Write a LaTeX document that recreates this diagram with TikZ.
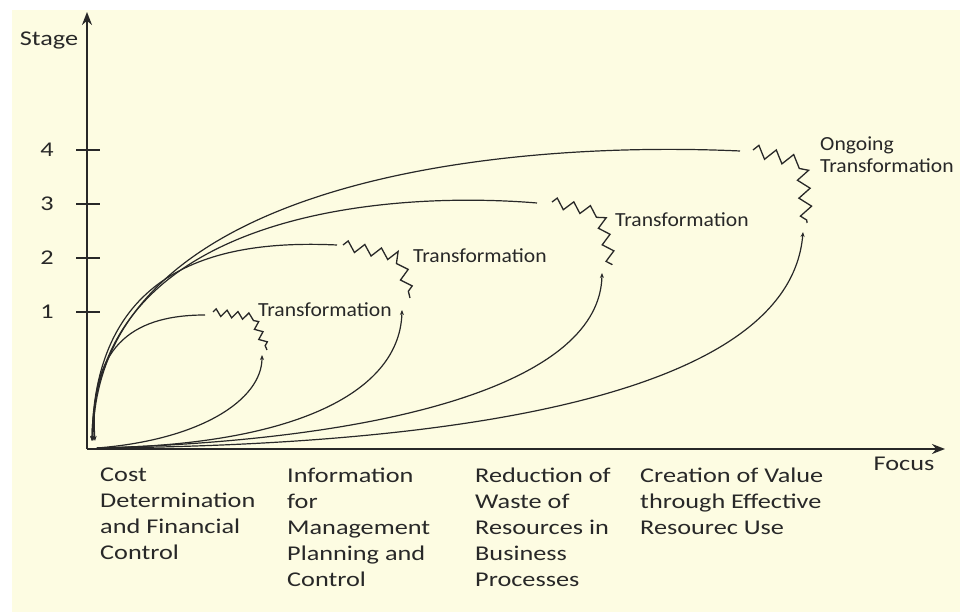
\documentclass[tikz,border=0pt]{standalone}
\usepackage{fontspec}
\setmainfont{Carlito}
\newfontfamily\widefont[FakeStretch=1.25]{Carlito}
\newfontfamily\plotfont[FakeStretch=1.08]{Carlito}
\usetikzlibrary{arrows.meta,decorations.pathmorphing,positioning}
\definecolor{paper}{RGB}{253,252,226}
\definecolor{ink}{RGB}{40,40,40}
\tikzstyle{axis} = [ink,line width=1.8pt,-{Stealth[length=13pt,width=10pt]}]
\tikzstyle{flow} = [ink,line width=1.2pt,-{Stealth[length=5pt,width=4pt]}]
\tikzstyle{zigzagline} = [ink,line width=1.3pt,line join=miter,decorate,decoration={zigzag,segment length=17pt,amplitude=5pt}]
\tikzstyle{axislabel} = [text=ink,font=\widefont\fontsize{21}{26}\selectfont,anchor=base,inner sep=0pt]
\tikzstyle{focuslabel} = [text=ink,font=\widefont\fontsize{21}{26}\selectfont,align=left,anchor=north west,inner sep=0pt]
\tikzstyle{translabel} = [text=ink,font=\plotfont\fontsize{20}{22}\selectfont,align=left,anchor=base west,inner sep=0pt]

\begin{document}
\begin{tikzpicture}[x=1pt,y=1pt,line join=round]
    \useasboundingbox (-87,-163) rectangle (873,449);
    \fill[paper] (-75,-163) rectangle (873,439);

    % axes
    \coordinate (o) at (0,0);
    \coordinate (ytop) at (0,437);
    \coordinate (xend) at (858,0);
    \draw[axis] (o) -- (ytop);
    \draw[axis] (o) -- (xend);
    \node[axislabel] (stage) at (-38,403) {Stage};
    \node[axislabel] (focus) at (817,-22) {Focus};
    \foreach \s in {1,...,4} {
        \draw[ink,line width=1.5pt] (-11,83+54*\s) coordinate (tick\s) -- (13,83+54*\s);
        \node[axislabel] (stage\s) at (-40,76.5+54*\s) {\s};
    }

    % stage 1
    \coordinate (top1) at (118,134);
    \coordinate (in1) at (8,8);
    \coordinate (zz1a) at (126,137);
    \coordinate (zz1b) at (166,132);
    \coordinate (zz1c) at (180,99);
    \coordinate (out1) at (10,1);
    \coordinate (up1) at (175,94);
    \draw[flow] (top1) .. controls (53,134) and (1,109) .. (in1);
    \draw[zigzagline,decoration={segment length=11pt,amplitude=3.5pt}] (zz1a) -- (zz1b) -- (zz1c);
    \draw[flow] (out1) .. controls (113,9) and (175,49) .. (up1);
    \node[translabel] (trans1) at (171,132) {Transformation};

    % stage 2
    \coordinate (top2) at (250,204);
    \coordinate (in2) at (5,8);
    \coordinate (zz2a) at (256,204);
    \coordinate (zz2b) at (313,192);
    \coordinate (zz2c) at (323,151);
    \coordinate (out2) at (10,1);
    \coordinate (up2) at (315,139);
    \draw[flow] (top2) .. controls (143,209) and (8,189) .. (in2);
    \draw[zigzagline] (zz2a) -- (zz2b) -- (zz2c);
    \draw[flow] (out2) .. controls (213,4) and (313,59) .. (up2);
    \node[translabel] (trans2) at (326,186) {Transformation};

    % stage 3
    \coordinate (top3) at (450,246);
    \coordinate (in3) at (5,8);
    \coordinate (zz3a) at (465,247);
    \coordinate (zz3b) at (513,236);
    \coordinate (zz3c) at (525,184);
    \coordinate (out3) at (10,1);
    \coordinate (up3) at (515,176);
    \draw[flow] (top3) .. controls (293,259) and (8,234) .. (in3);
    \draw[zigzagline] (zz3a) -- (zz3b) -- (zz3c);
    \draw[flow] (out3) .. controls (313,9) and (513,69) .. (up3);
    \node[translabel] (trans3) at (528,222) {Transformation};

    % stage 4
    \coordinate (top4) at (653,298);
    \coordinate (in4) at (6,8);
    \coordinate (zz4a) at (666,299);
    \coordinate (zz4b) at (715,286);
    \coordinate (zz4c) at (720,226);
    \coordinate (out4) at (10,1);
    \coordinate (up4) at (716,217);
    \draw[flow] (top4) .. controls (413,309) and (8,269) .. (in4);
    \draw[zigzagline,decoration={segment length=18pt,amplitude=6pt}] (zz4a) -- (zz4b) -- (zz4c);
    \draw[flow] (out4) .. controls (393,4) and (703,59) .. (up4);
    \node[translabel] (trans4) at (733,276) {Ongoing\\Transformation};

    % focus of each stage
    \node[focuslabel] (cost) at (13,-18.5) {Cost\\Determination\\and Financial\\Control};
    \node[focuslabel] (info) at (200,-18.5) {Information\\for\\Management\\Planning and\\Control};
    \node[focuslabel] (waste) at (388,-18.5) {Reduction of\\Waste of\\Resources in\\Business\\Processes};
    \node[focuslabel] (value) at (553,-18.5) {Creation of Value\\through Effective\\Resourec Use};
\end{tikzpicture}
\end{document}
